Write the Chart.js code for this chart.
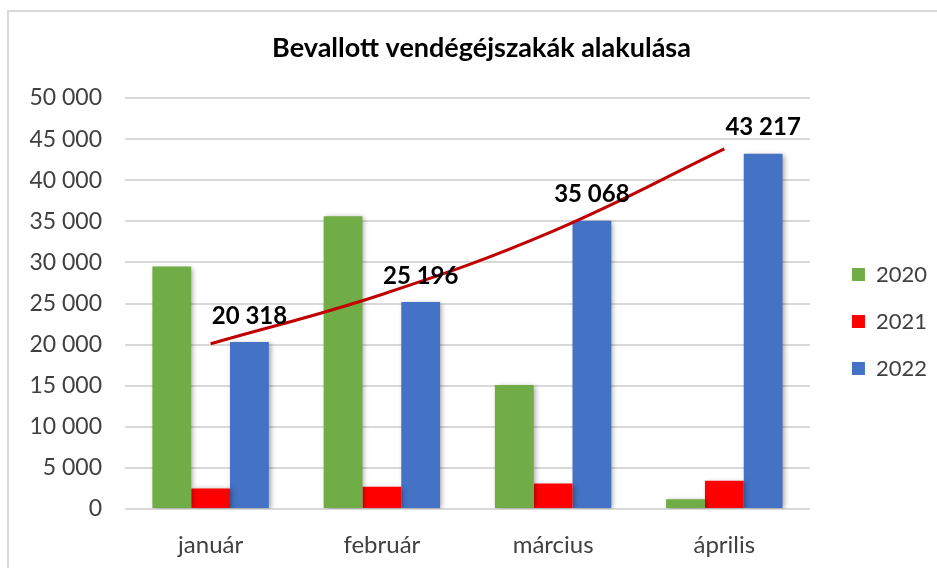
<!DOCTYPE html>
<html lang="hu">
<head>
  <meta charset="UTF-8">
  <title>Bevallott vendégéjszakák alakulása</title>
  <script src="https://cdn.jsdelivr.net/npm/chart.js@4.4.0/dist/chart.umd.min.js"></script>
  <style>
    body { margin: 0; background: #fff; }
    #frame {
      position: absolute; left: 7px; top: 10px;
      width: 1000px; height: 620px;
      border: 2px solid #d9d9d9;
    }
    #wrap { position: absolute; left: 0; top: 0; width: 937px; height: 568px; }
  </style>
</head>
<body>
  <div id="frame"></div>
  <div id="wrap"><canvas id="chart" width="937" height="568"></canvas></div>

  <script>
    const months = ['január', 'február', 'március', 'április'];
    const years = ['2020', '2021', '2022'];
    const nights2020 = [29500, 35600, 15100, 1200];
    const nights2021 = [2500, 2700, 3100, 3450];
    const nights2022 = [20318, 25196, 35068, 43217];
    // red trend line over the 2022 bars
    const trend2022 = [20100, 26100, 33800, 43800];
    const yTicks = { min: 0, max: 50000, step: 5000 };

    const fmt = v => String(Math.round(v)).replace(/\B(?=(\d{3})+(?!\d))/g, ' ');

    // Excel style soft shadow under the bars
    const barShadow = {
      id: 'barShadow',
      beforeDatasetDraw(chart, args) {
        if (args.meta.type !== 'bar') return;
        const ctx = chart.ctx;
        ctx.save();
        ctx.shadowColor = 'rgba(0,0,0,0.35)';
        ctx.shadowBlur = 5;
        ctx.shadowOffsetX = 2;
        ctx.shadowOffsetY = 1;
      },
      afterDatasetDraw(chart, args) {
        if (args.meta.type !== 'bar') return;
        chart.ctx.restore();
      }
    };

    // value labels above the 2022 bars (dataset 3)
    const valueLabels = {
      id: 'valueLabels',
      afterDatasetsDraw(chart) {
        const ctx = chart.ctx;
        const meta = chart.getDatasetMeta(3);
        ctx.save();
        ctx.font = 'bold 24px Lato';
        ctx.fillStyle = '#000';
        ctx.textAlign = 'center';
        ctx.textBaseline = 'middle';
        meta.data.forEach((bar, i) => {
          ctx.fillText(fmt(nights2022[i]), bar.x, bar.y - 26);
        });
        ctx.restore();
      }
    };

    new Chart(document.getElementById('chart'), {
      data: {
        labels: months,
        datasets: [
          {
            type: 'line',
            label: 'trend',
            data: trend2022,
            borderColor: '#C00000',
            borderWidth: 3,
            pointRadius: 0,
            tension: 0.4,
            fill: false,
            order: 0
          },
          { type: 'bar', label: years[0], data: nights2020, backgroundColor: '#70AD47', order: 1 },
          { type: 'bar', label: years[1], data: nights2021, backgroundColor: '#FF0000', order: 1 },
          { type: 'bar', label: years[2], data: nights2022, backgroundColor: '#4472C4', order: 1 }
        ]
      },
      options: {
        responsive: false,
        animation: false,
        layout: { padding: { left: 26, right: 0, top: 0, bottom: 0 } },
        datasets: {
          bar: { categoryPercentage: 0.68, barPercentage: 1.0 }
        },
        scales: {
          x: {
            grid: { display: false, drawTicks: false },
            border: { display: false },
            ticks: { color: '#404040', font: { family: 'Lato', size: 24 }, padding: 22 },
            afterFit: s => { s.height = 59; }
          },
          y: {
            min: yTicks.min,
            max: yTicks.max,
            grid: { color: '#d9d9d9', lineWidth: 2, drawTicks: false },
            border: { display: false },
            ticks: {
              stepSize: yTicks.step,
              color: '#404040',
              font: { family: 'Lato', size: 23 },
              padding: 23,
              callback: v => fmt(v)
            },
            afterFit: s => { s.width = 99; }
          },
          gap: {
            position: 'right',
            display: true,
            grid: { display: false },
            border: { display: false },
            ticks: { display: false },
            afterFit: s => { s.width = 17; }
          }
        },
        plugins: {
          title: {
            display: true,
            text: 'Bevallott vendégéjszakák alakulása',
            color: '#000',
            font: { family: 'Lato', size: 27, weight: 'bold', lineHeight: 1.2 },
            padding: { top: 32, bottom: 33.6 }
          },
          legend: {
            position: 'right',
            fullSize: false,
            title: { display: true, text: ' ', font: { size: 10 }, padding: { top: 12, bottom: 12 } },
            labels: {
              boxWidth: 13,
              boxHeight: 13,
              padding: 25,
              color: '#404040',
              font: { family: 'Lato', size: 22 },
              filter: item => item.datasetIndex > 0
            }
          },
          tooltip: { enabled: false }
        }
      },
      plugins: [barShadow, valueLabels]
    });
  </script>
</body>
</html>
